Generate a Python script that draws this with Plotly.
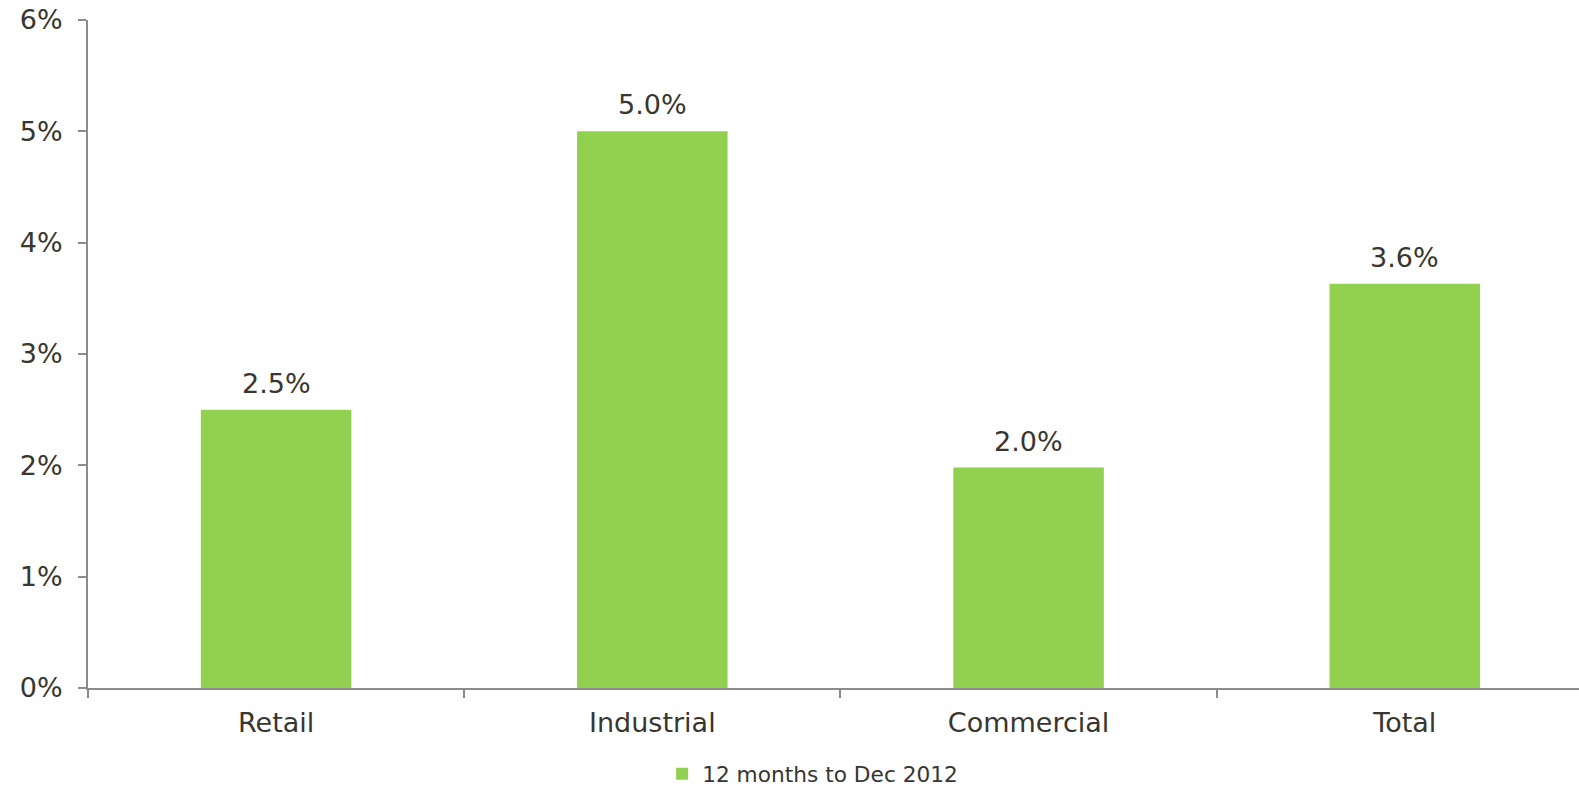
import plotly.graph_objects as go

categories = ["Retail", "Industrial", "Commercial", "Total"]
values = [2.5, 5.0, 1.98, 3.63]
labels = ["2.5%", "5.0%", "2.0%", "3.6%"]
series_name = "12 months to Dec 2012"
y_ticks = [0, 1, 2, 3, 4, 5, 6]
y_tick_text = ["0%", "1%", "2%", "3%", "4%", "5%", "6%"]

FONT = "DejaVu Sans, Verdana, sans-serif"
TXT = "#37362f"
AXIS = "#8c8c8c"
FS = 27

fig = go.Figure()
fig.add_trace(go.Bar(
    x=categories, y=values, name=series_name,
    marker=dict(color="#92d050", line=dict(width=0)),
    width=0.4, showlegend=True,
))
for c, v, t in zip(categories, values, labels):
    fig.add_annotation(x=c, y=v, text=t, showarrow=False, yanchor="bottom",
                       yshift=9, font=dict(family=FONT, size=FS, color=TXT))

fig.update_layout(
    width=1579, height=790,
    margin=dict(l=88, r=0, t=20, b=102),
    plot_bgcolor="white", paper_bgcolor="white",
    font=dict(family=FONT, size=FS, color=TXT),
    bargap=0.6,
    showlegend=True,
    legend=dict(orientation="h", x=0.486, xanchor="center",
                yref="container", y=0.02, yanchor="middle",
                font=dict(family=FONT, size=21.7, color=TXT), itemwidth=30),
    xaxis=dict(
        range=[-0.5, 3.463], showline=True, linecolor=AXIS, linewidth=2,
        ticks="outside", tickson="boundaries", ticklen=8, tickcolor=AXIS, tickwidth=2,
        ticklabelstandoff=10, automargin=False,
        showgrid=False, zeroline=False, fixedrange=True,
    ),
    yaxis=dict(
        range=[0, 6], tickvals=y_ticks, ticktext=y_tick_text,
        showline=True, linecolor=AXIS, linewidth=2,
        ticks="outside", ticklen=8, tickcolor=AXIS, tickwidth=2,
        ticklabelstandoff=10, automargin=False,
        showgrid=False, zeroline=False, fixedrange=True,
    ),
)

fig.write_html("out.html")
